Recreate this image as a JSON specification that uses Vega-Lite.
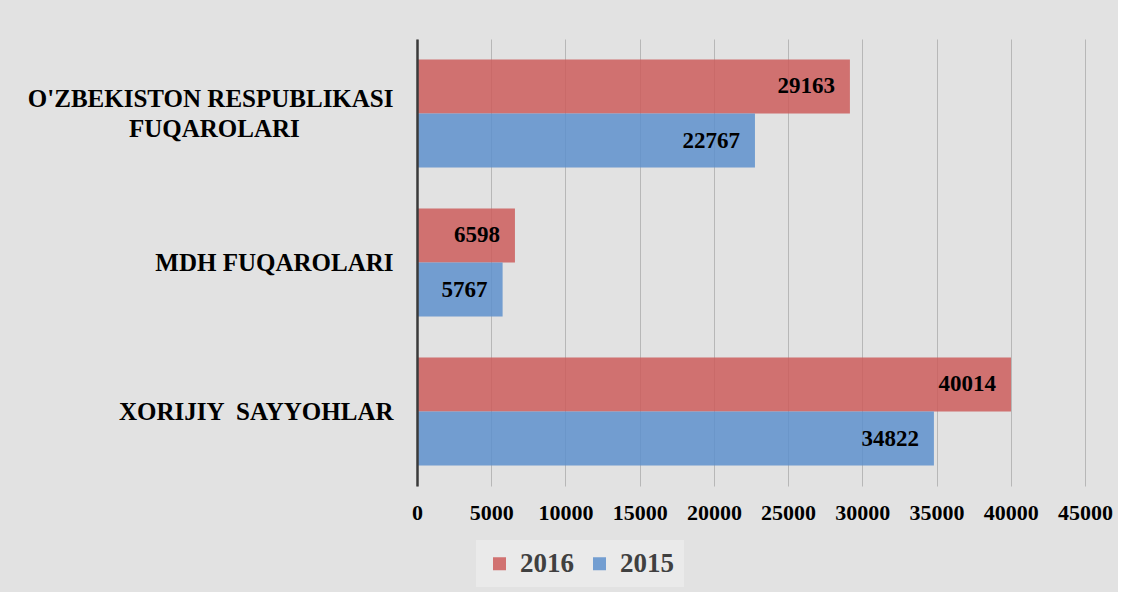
{
  "$schema": "https://vega.github.io/schema/vega-lite/v6.json",
  "width": 668,
  "height": 447,
  "padding": {"left": 10, "top": 39, "right": 5, "bottom": 5},
  "background": "#e2e2e2",
  "config": {"view": {"stroke": null}, "font": "Liberation Serif"},
  "data": {
    "values": [
      {"group": "O'ZBEKISTON RESPUBLIKASI FUQAROLARI", "year": "2016", "value": 29163},
      {"group": "O'ZBEKISTON RESPUBLIKASI FUQAROLARI", "year": "2015", "value": 22767},
      {"group": "MDH FUQAROLARI", "year": "2016", "value": 6598},
      {"group": "MDH FUQAROLARI", "year": "2015", "value": 5767},
      {"group": "XORIJIY  SAYYOHLAR", "year": "2016", "value": 40014},
      {"group": "XORIJIY  SAYYOHLAR", "year": "2015", "value": 34822}
    ]
  },
  "encoding": {
    "y": {
      "field": "group",
      "type": "nominal",
      "sort": null,
      "scale": {"paddingInner": 0.275, "paddingOuter": 0.1375},
      "axis": {
        "title": null,
        "domain": true,
        "domainColor": "#3a3a3a",
        "domainWidth": 2.5,
        "ticks": false,
        "tickSize": 0,
        "labelPadding": 24,
        "labelFontSize": 25,
        "labelFontWeight": "bold",
        "labelColor": "#000000",
        "labelFont": "Liberation Serif",
        "labelLimit": 0,
        "labelLineHeight": 30,
        "labelOffset": {"condition": {"test": "length(datum.value) > 30", "value": -15}, "value": 0},
        "minExtent": 407,
        "maxExtent": 407,
        "zindex": 1,
        "labelExpr": "length(datum.value) > 30 ? [slice(datum.value, 0, 24), pad(slice(datum.value, 25), 25, '\u00a0') + '\u200b'] : replace(datum.value, '  ', ' \u00a0')"
      }
    },
    "yOffset": {
      "field": "year",
      "type": "nominal",
      "sort": ["2016", "2015"],
      "scale": {"paddingInner": 0, "paddingOuter": 0}
    },
    "x": {
      "field": "value",
      "type": "quantitative",
      "scale": {"domain": [0, 45000], "nice": false},
      "axis": {
        "title": null,
        "values": [0, 5000, 10000, 15000, 20000, 25000, 30000, 35000, 40000, 45000],
        "format": "d",
        "domain": false,
        "ticks": false,
        "tickSize": 0,
        "labelPadding": 16,
        "labelFontSize": 22,
        "labelFontWeight": "bold",
        "labelFont": "Liberation Serif",
        "labelColor": "#000000",
        "labelFlush": false,
        "grid": true,
        "gridColor": "#8c8c8c",
        "gridOpacity": 0.5,
        "zindex": 0
      }
    }
  },
  "layer": [
    {
      "mark": {"type": "bar", "fillOpacity": 0.85},
      "encoding": {
        "color": {
          "field": "year",
          "type": "nominal",
          "scale": {"domain": ["2016", "2015"], "range": ["#CC5D5C", "#5E90CC"]},
          "legend": {
            "title": null,
            "orient": "none",
            "legendX": 59,
            "legendY": 501,
            "direction": "horizontal",
            "symbolType": "square",
            "symbolSize": 169,
            "symbolStrokeWidth": 0,
            "symbolOpacity": 0.85,
            "labelFontSize": 27,
            "labelFont": "Liberation Serif",
            "labelFontWeight": "bold",
            "labelColor": "#404040",
            "labelOffset": 7,
            "columnPadding": 12,
            "padding": 10,
            "fillColor": "#eaeaea",
            "strokeColor": null
          }
        }
      }
    },
    {
      "mark": {
        "type": "text",
        "align": "right",
        "baseline": "middle",
        "dx": -15,
        "fontSize": 23,
        "fontWeight": "bold",
        "font": "Liberation Serif",
        "color": "#000000"
      },
      "encoding": {
        "text": {"field": "value", "type": "quantitative", "format": "d"}
      }
    }
  ]
}
